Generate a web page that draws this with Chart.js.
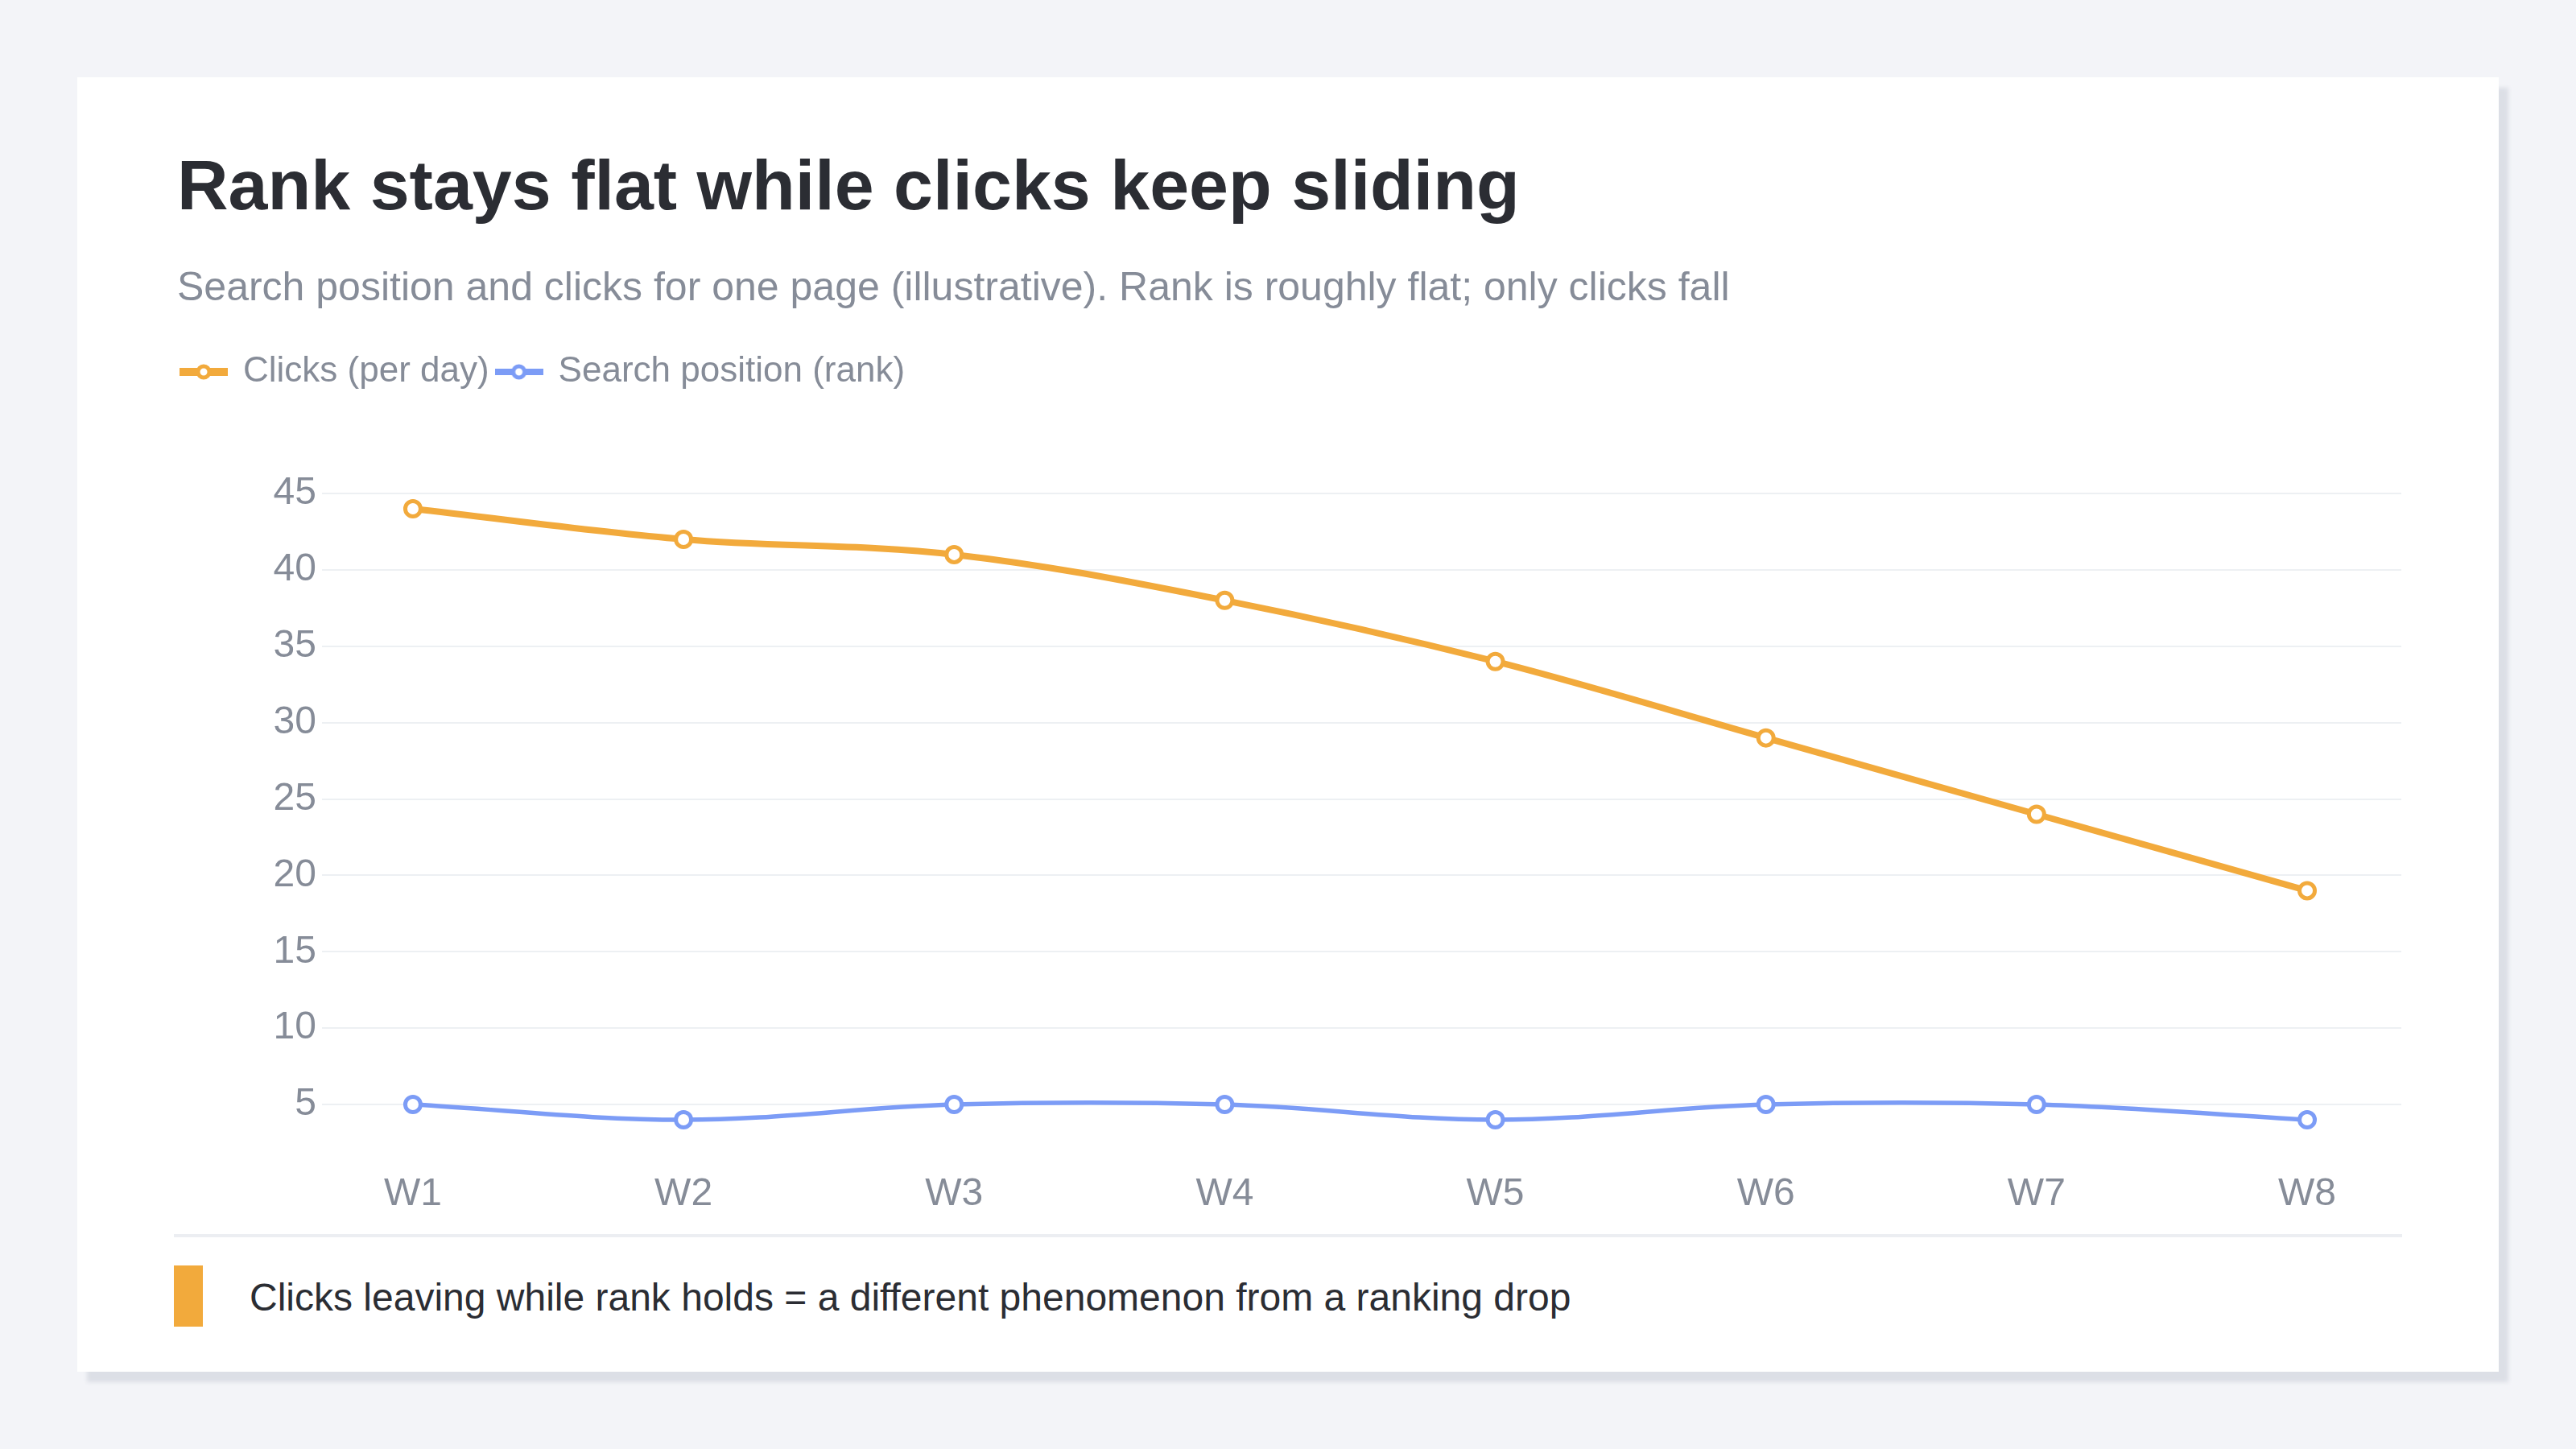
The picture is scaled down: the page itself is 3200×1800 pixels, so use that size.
<!DOCTYPE html>
<html>
<head>
<meta charset="utf-8">
<title>Rank stays flat while clicks keep sliding</title>
<script src="https://cdn.jsdelivr.net/npm/chart.js@4/dist/chart.umd.min.js"></script>
<style>
  html, body { margin: 0; padding: 0; }
  body {
    width: 3200px; height: 1800px; position: relative; overflow: hidden;
    background: #f3f4f8;
    font-family: "Liberation Sans", Arial, Helvetica, sans-serif;
  }
  .card {
    position: absolute; left: 96px; top: 96px; width: 3008px; height: 1608px;
    background: #fff; box-shadow: 12px 13px 5px #dcdfe6;
  }
  h1 {
    position: absolute; left: 124px; top: 90px; margin: 0;
    font-size: 88px; line-height: 88px; font-weight: 700; color: #2b2d33; white-space: nowrap;
  }
  .sub {
    position: absolute; left: 124px; top: 235px; margin: 0;
    font-size: 50px; line-height: 50px; color: #868c98; white-space: nowrap;
  }
  .chartBox { position: absolute; left: 120px; top: 334px; width: 2767px; height: 1079px; }
  .divider { position: absolute; left: 120px; top: 1437px; width: 2768px; height: 4px; background: #eceef2; }
  .noteBar { position: absolute; left: 120px; top: 1476px; width: 36px; height: 76px; background: #f2aa3c; }
  .note {
    position: absolute; left: 214px; top: 1492px;
    font-size: 48px; line-height: 48px; color: #2b2d33; white-space: nowrap;
  }
</style>
</head>
<body>
<div class="card">
  <h1>Rank stays flat while clicks keep sliding</h1>
  <p class="sub">Search position and clicks for one page (illustrative). Rank is roughly flat; only clicks fall</p>
  <div class="chartBox"><canvas id="rankChart"></canvas></div>
  <div class="divider"></div>
  <div class="noteBar"></div>
  <div class="note">Clicks leaving while rank holds = a different phenomenon from a ranking drop</div>
</div>

<script>
// data
const weeks = ["W1", "W2", "W3", "W4", "W5", "W6", "W7", "W8"];
const clicks = [44, 42, 41, 38, 34, 29, 24, 19];
const rank = [5, 4, 5, 5, 4, 5, 5, 4];
const seriesNames = ["Clicks (per day)", "Search position (rank)"];

const orange = "#f2aa3c";
const blue = "#7c9cf6";
const gray = "#868c98";

Chart.defaults.font.family = '"Liberation Sans", Arial, Helvetica, sans-serif';

// linear x axis so the weeks sit inset from the grid ends like the original
function toPoints(arr) {
  return arr.map((v, i) => ({ x: i, y: v }));
}

// legend marker: short thick line with a hollow dot
function makeIcon(color, lw) {
  const c = document.createElement("canvas");
  c.width = 60;
  c.height = 26;
  const g = c.getContext("2d");
  g.strokeStyle = color;
  g.lineWidth = lw;
  g.beginPath();
  g.moveTo(0, 13);
  g.lineTo(60, 13);
  g.stroke();
  g.beginPath();
  g.arc(30, 13, 7, 0, Math.PI * 2);
  g.fillStyle = "#fff";
  g.fill();
  g.lineWidth = 5;
  g.stroke();
  return c;
}
const icons = [makeIcon(orange, 10), makeIcon(blue, 8)];

// extra room under the legend
const legendGap = {
  id: "legendGap",
  beforeInit(chart) {
    const fit = chart.legend.fit;
    chart.legend.fit = function () {
      fit.bind(chart.legend)();
      this.height += 119;
    };
  }
};

const ctx = document.getElementById("rankChart");

new Chart(ctx, {
  type: "line",
  data: {
    datasets: [
      {
        label: seriesNames[0],
        data: toPoints(clicks),
        borderColor: orange,
        backgroundColor: orange,
        borderWidth: 8,
        pointRadius: 9.5,
        pointBorderWidth: 5,
        pointBackgroundColor: "#fff",
        pointBorderColor: orange,
        tension: 0.35
      },
      {
        label: seriesNames[1],
        data: toPoints(rank),
        borderColor: blue,
        backgroundColor: blue,
        borderWidth: 5.5,
        pointRadius: 9.5,
        pointBorderWidth: 5,
        pointBackgroundColor: "#fff",
        pointBorderColor: blue,
        tension: 0.35
      }
    ]
  },
  options: {
    responsive: true,
    maintainAspectRatio: false,
    animation: false,
    layout: { padding: 0, autoPadding: false },
    plugins: {
      legend: {
        align: "start",
        labels: {
          usePointStyle: true,
          pointStyleWidth: 54,
          color: gray,
          padding: 10,
          font: { size: 44 },
          generateLabels: (chart) =>
            Chart.defaults.plugins.legend.labels.generateLabels(chart).map((item, i) => {
              item.pointStyle = icons[i];
              return item;
            })
        }
      },
      tooltip: { enabled: false }
    },
    scales: {
      x: {
        type: "linear",
        min: -0.336,
        max: 7.348,
        grid: { display: false },
        border: { display: false },
        ticks: {
          stepSize: 1,
          includeBounds: false,
          maxRotation: 0,
          padding: 18,
          color: gray,
          font: { size: 48 },
          callback: (v) => weeks[v]
        },
        afterFit: (scale) => {
          scale.height = 80;
          scale.paddingLeft = 0;
          scale.paddingRight = 0;
        }
      },
      y: {
        min: 2,
        max: 45,
        grid: { color: "#edf0f3", lineWidth: 2, drawTicks: false },
        border: { display: false },
        ticks: {
          stepSize: 5,
          includeBounds: false,
          padding: 7,
          color: gray,
          font: { size: 48 }
        },
        afterFit: (scale) => { scale.width = 184; }
      }
    }
  },
  plugins: [legendGap]
});
</script>
</body>
</html>
